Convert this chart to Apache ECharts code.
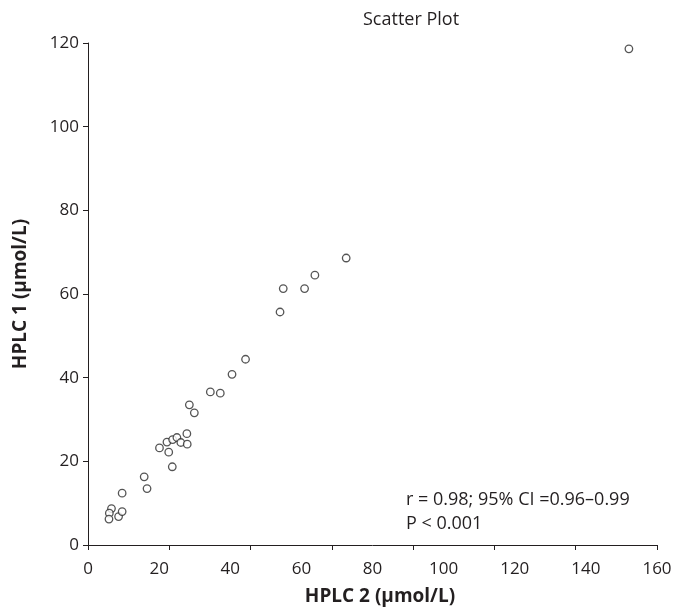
<!DOCTYPE html>
<html>
<head>
<meta charset="utf-8">
<script src="https://cdn.jsdelivr.net/npm/echarts@6/dist/echarts.min.js"></script>
<style>html,body{margin:0;padding:0;background:#fff}#c{width:675px;height:611px}</style>
</head>
<body>
<div id="c"></div>
<script>
var hplc2 = [152.1, 72.6, 63.8, 60.9, 54.9, 54.0, 44.3, 40.5, 34.4, 37.2, 28.5, 29.9, 27.8, 20.1, 22.2, 23.8, 25.0, 26.1, 27.9, 22.7, 23.7, 15.8, 16.6, 9.6, 6.6, 6.0, 5.9, 8.6, 9.6];
var hplc1 = [118.6, 68.6, 64.5, 61.3, 61.3, 55.7, 44.4, 40.8, 36.6, 36.3, 33.5, 31.6, 26.6, 23.2, 24.6, 25.2, 25.7, 24.5, 24.1, 22.2, 18.7, 16.3, 13.5, 12.4, 8.7, 7.6, 6.2, 6.8, 8.0];
var xTicks = [0, 20, 40, 60, 80, 100, 120, 140, 160];
var yTicks = [0, 20, 40, 60, 80, 100, 120];
var titleText = 'Scatter Plot';
var xName = 'HPLC 2 (µmol/L)';
var yName = 'HPLC 1 (µmol/L)';
var statLines = ['r = 0.98; 95% CI =0.96–0.99', 'P < 0.001'];

var points = hplc2.map(function (x, i) { return [x, hplc1[i]]; });
var FONT = '"Open Sans", "Noto Sans", sans-serif';
var INK = '#231f20';

var chart = echarts.init(document.getElementById('c'), null, {renderer: 'canvas'});
chart.setOption({
  animation: false,
  backgroundColor: '#fff',
  title: {
    text: titleText, left: 358, top: 6,
    textStyle: {fontFamily: FONT, fontSize: 18, fontWeight: 'normal', color: INK}
  },
  grid: {left: 88, right: 18, top: 43, bottom: 66},
  xAxis: [{
    type: 'value', min: xTicks[0], max: xTicks[xTicks.length - 1], interval: 20,
    name: xName, nameLocation: 'middle', nameGap: 42,
    nameTextStyle: {fontFamily: FONT, fontSize: 19, fontWeight: 'bold', color: INK, padding: [0, 0, 0, 15]},
    axisLine: {show: true, lineStyle: {color: INK, width: 1}},
    axisTick: {show: false},
    splitLine: {show: false},
    axisLabel: {fontFamily: FONT, fontSize: 17, color: INK, margin: 16}
  }, {
    type: 'value', min: 0, max: 160, interval: 160 / 7, position: 'bottom',
    axisLine: {show: false},
    axisTick: {show: true, length: 5, lineStyle: {color: INK, width: 1}},
    axisLabel: {show: false},
    splitLine: {show: false}
  }],
  yAxis: {
    type: 'value', min: yTicks[0], max: yTicks[yTicks.length - 1], interval: 20,
    name: yName, nameLocation: 'middle', nameGap: 58, nameRotate: 90,
    nameTextStyle: {fontFamily: FONT, fontSize: 19, fontWeight: 'bold', color: INK},
    axisLine: {show: true, lineStyle: {color: INK, width: 1}},
    axisTick: {show: true, length: 5, lineStyle: {color: INK, width: 1}},
    splitLine: {show: false},
    axisLabel: {fontFamily: FONT, fontSize: 17, color: INK, margin: 9}
  },
  series: [{
    type: 'scatter', xAxisIndex: 0,
    data: points,
    symbol: 'circle', symbolSize: 7.5,
    itemStyle: {color: '#fff', borderColor: '#2b2b2b', borderWidth: 1.3}
  }],
  graphic: [{
    type: 'text', left: 406, top: 491,
    style: {text: statLines[0], font: '18px ' + FONT, fill: INK}
  }, {
    type: 'text', left: 406, top: 515,
    style: {text: statLines[1], font: '18px ' + FONT, fill: INK}
  }]
});
</script>
</body>
</html>
